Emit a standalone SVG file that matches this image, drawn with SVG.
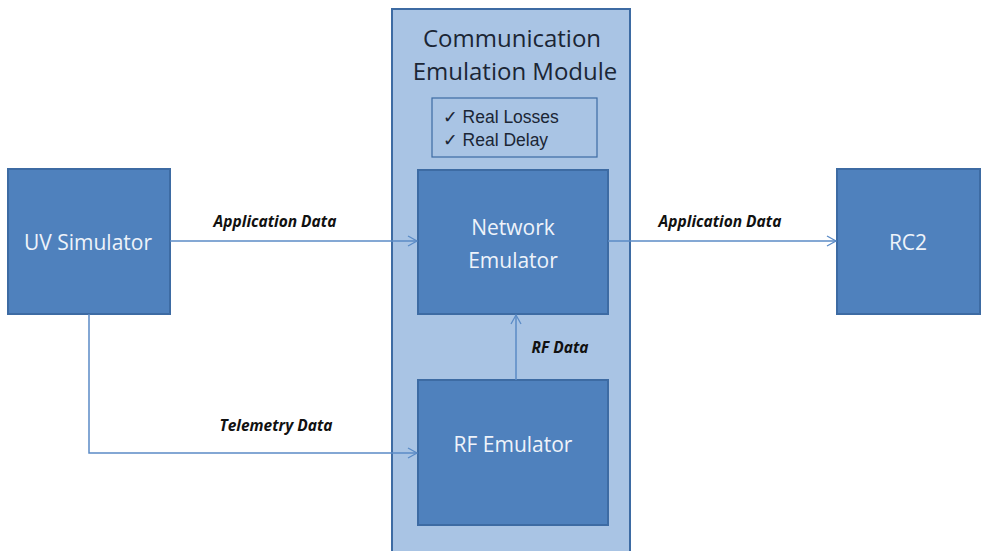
<svg xmlns="http://www.w3.org/2000/svg" width="988" height="551" viewBox="0 0 988 551">
<defs>
<marker id="arr" markerWidth="12" markerHeight="12" refX="10" refY="6" orient="auto" markerUnits="userSpaceOnUse">
<path d="M1,1 L10,6 L1,11" fill="none" stroke="#5b8bc6" stroke-width="1.3"/>
</marker>
</defs>
<style>
.box{fill:#4f81bd;stroke:#3d6ba3;stroke-width:2}
.btxt{font-family:"Open Sans","Liberation Sans",sans-serif;font-size:21px;fill:#eef3fa;text-anchor:middle}
.lbl{font-family:"Open Sans","Liberation Sans",sans-serif;font-size:15.5px;font-weight:bold;font-style:italic;fill:#111;text-anchor:middle}
.conn{fill:none;stroke:#5b8bc6;stroke-width:1.5}
</style>
<rect width="988" height="551" fill="#ffffff"/>
<g id="module">
<rect x="392" y="9" width="238" height="560" fill="#a9c4e4" stroke="#3d6ba3" stroke-width="2"/>
<text x="512" y="47" font-family="Open Sans,Liberation Sans,sans-serif" font-size="24" fill="#1b2635" text-anchor="middle">Communication</text>
<text x="515" y="80" font-family="Open Sans,Liberation Sans,sans-serif" font-size="24" fill="#1b2635" text-anchor="middle">Emulation Module</text>
</g>
<g id="features">
<rect x="432" y="98" width="165" height="59" fill="#a9c4e4" stroke="#3d6ba3" stroke-width="1.2"/>
<text x="443" y="123" font-family="Liberation Sans,DejaVu Sans,sans-serif" font-size="17.5" fill="#1b2635">✓ Real Losses</text>
<text x="443" y="146" font-family="Liberation Sans,DejaVu Sans,sans-serif" font-size="17.5" fill="#1b2635">✓ Real Delay</text>
</g>
<g id="uv-simulator">
<rect class="box" x="8" y="169" width="162" height="145"/>
<text class="btxt" x="88" y="250">UV Simulator</text>
</g>
<g id="network-emulator">
<rect class="box" x="418" y="170" width="190" height="144"/>
<text class="btxt" x="513" y="235">Network</text>
<text class="btxt" x="513" y="268">Emulator</text>
</g>
<g id="rf-emulator">
<rect class="box" x="418" y="380" width="190" height="145"/>
<text class="btxt" x="513" y="452">RF Emulator</text>
</g>
<g id="rc2">
<rect class="box" x="837" y="169" width="143" height="145"/>
<text class="btxt" x="908" y="250">RC2</text>
</g>
<g id="connectors">
<path class="conn" d="M170,241 L417,241" marker-end="url(#arr)"/>
<text class="lbl" x="275" y="227">Application Data</text>
<path class="conn" d="M608,241 L836,241" marker-end="url(#arr)"/>
<text class="lbl" x="720" y="227">Application Data</text>
<path class="conn" d="M516,380 L516,315" marker-end="url(#arr)"/>
<text class="lbl" x="560" y="353">RF Data</text>
<path class="conn" d="M89,314 L89,453 L417,453" marker-end="url(#arr)"/>
<text class="lbl" x="276" y="431">Telemetry Data</text>
</g>
</svg>
